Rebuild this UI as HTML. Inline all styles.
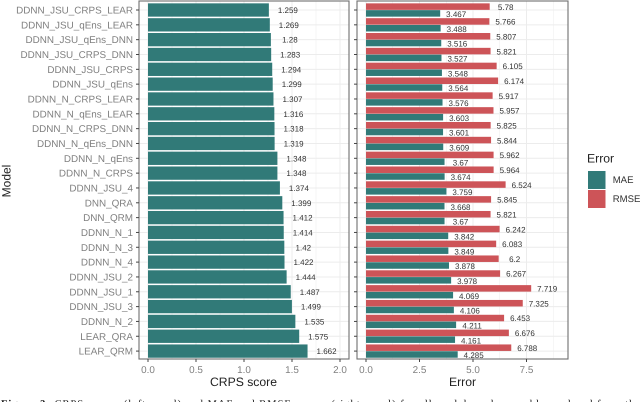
<!DOCTYPE html>
<html lang="en">
<head>
<meta charset="utf-8">
<title>CRPS and error scores by model</title>
<style>
html,body{margin:0;padding:0;background:#fff;width:640px;height:402px;overflow:hidden}
svg{display:block;font-family:"Liberation Sans",sans-serif;text-rendering:geometricPrecision;filter:blur(0.3px)}
text{font-family:"Liberation Sans",sans-serif}
.cap{font-family:"Liberation Serif",serif}
</style>
</head>
<body>
<svg id="chart" xmlns="http://www.w3.org/2000/svg" width="640" height="402" viewBox="0 0 640 402">
  <g id="left-grid"></g>
  <g id="right-grid"></g>
  <g id="left-bars"></g>
  <g id="right-bars"></g>
  <g id="left-values"></g>
  <g id="right-values"></g>
  <rect x="139" y="1" width="210" height="358" fill="none" stroke="#6f6f6f" stroke-width="1.1"/>
  <rect x="357" y="1" width="211" height="358" fill="none" stroke="#6f6f6f" stroke-width="1.1"/>
  <g id="y-axis"></g>
  <g id="x-axis-left"></g>
  <g id="x-axis-right"></g>
  <text transform="translate(10.5,181) rotate(-90)" text-anchor="middle" font-size="12" fill="#222">Model</text>
  <text x="243.5" y="386" text-anchor="middle" font-size="12.2" fill="#222">CRPS score</text>
  <text x="462.5" y="386" text-anchor="middle" font-size="12.2" fill="#222">Error</text>
  <g>
    <text x="587" y="162.5" font-size="12.2" fill="#222">Error</text>
    <rect x="588" y="171" width="17.5" height="18" fill="#317a78"/>
    <rect x="588" y="190" width="17.5" height="18" fill="#cd5458"/>
    <text x="612.7" y="183" font-size="9.6" fill="#333">MAE</text>
    <text x="612.7" y="202" font-size="9.6" fill="#333">RMSE</text>
  </g>
  <text class="cap" x="1" y="407" font-size="10.4" fill="#111" textLength="639" lengthAdjust="spacing"><tspan font-weight="bold">Figure 3:</tspan> CRPS scores (left panel) and MAE and RMSE scores (right panel) for all models and ensembles ordered from the</text>
</svg>
<script>
const categories = ["DDNN_JSU_CRPS_LEAR","DDNN_JSU_qEns_LEAR","DDNN_JSU_qEns_DNN","DDNN_JSU_CRPS_DNN","DDNN_JSU_CRPS","DDNN_JSU_qEns","DDNN_N_CRPS_LEAR","DDNN_N_qEns_LEAR","DDNN_N_CRPS_DNN","DDNN_N_qEns_DNN","DDNN_N_qEns","DDNN_N_CRPS","DDNN_JSU_4","DNN_QRA","DNN_QRM","DDNN_N_1","DDNN_N_3","DDNN_N_4","DDNN_JSU_2","DDNN_JSU_1","DDNN_JSU_3","DDNN_N_2","LEAR_QRA","LEAR_QRM"];
const crps = [1.259,1.269,1.28,1.283,1.294,1.299,1.307,1.316,1.318,1.319,1.348,1.348,1.374,1.399,1.412,1.414,1.42,1.422,1.444,1.487,1.499,1.535,1.575,1.662];
const mae = [3.467,3.488,3.516,3.527,3.548,3.564,3.576,3.603,3.601,3.609,3.67,3.674,3.759,3.668,3.67,3.842,3.849,3.878,3.978,4.069,4.106,4.211,4.161,4.285];
const rmse = [5.78,5.766,5.807,5.821,6.105,6.174,5.917,5.957,5.825,5.844,5.962,5.964,6.524,5.845,5.821,6.242,6.083,6.2,6.267,7.719,7.325,6.453,6.676,6.788];
const crpsTicks = [0,0.5,1,1.5,2];
const crpsTickLabels = ["0.0","0.5","1.0","1.5","2.0"];
const errorTicks = [0,2.5,5,7.5];
const errorTickLabels = ["0.0","2.5","5.0","7.5"];

const NS = "http://www.w3.org/2000/svg";
const xLeft = v => 148 + v * 96;
const xRight = v => 366 + v * 21.4;
const yRow = i => 10 + i * 14.83;
const fmt = v => String(v);

function make(parentId, tag, props, text) {
  const el = document.createElementNS(NS, tag);
  for (const k in props) el.setAttribute(k, props[k]);
  if (text !== undefined) el.textContent = text;
  document.getElementById(parentId).appendChild(el);
  return el;
}

function gridV(parentId, x, top, bottom, width, name) {
  const el = make(parentId, "line", {x1:x, x2:x, y1:top, y2:bottom, stroke:"#ececec", "stroke-width":width});
  
  
}

function gridH(parentId, y, x1, x2) {
  const el = make(parentId, "line", {x1:x1, x2:x2, y1:y, y2:y, stroke:"#ececec", "stroke-width":1});
  
  
}

crpsTicks.forEach((t, i) => {
  gridV("left-grid", xLeft(t), 1, 359, 1, "grid-line-major");
  if (i < crpsTicks.length - 1) gridV("left-grid", xLeft((t + crpsTicks[i + 1]) / 2), 1, 359, 0.5, "grid-line-minor");
  const tick = make("x-axis-left", "line", {x1:xLeft(t), x2:xLeft(t), y1:359, y2:362, stroke:"#444", "stroke-width":1});
  
  
  const lab = make("x-axis-left", "text", {x:xLeft(t), y:373, "text-anchor":"middle", "font-size":9.9, fill:"#7f7f7f"}, crpsTickLabels[i]);
  
  
});

errorTicks.forEach((t, i) => {
  gridV("right-grid", xRight(t), 1, 359, 1, "grid-line-major");
  gridV("right-grid", xRight(t + 1.25), 1, 359, 0.5, "grid-line-minor");
  const tick = make("x-axis-right", "line", {x1:xRight(t), x2:xRight(t), y1:359, y2:362, stroke:"#444", "stroke-width":1});
  
  
  const lab = make("x-axis-right", "text", {x:xRight(t), y:373, "text-anchor":"middle", "font-size":9.9, fill:"#7f7f7f"}, errorTickLabels[i]);
  
  
});

categories.forEach((name, i) => {
  const y = yRow(i);
  gridH("left-grid", y, 139, 349);
  gridH("right-grid", y, 357, 568);

  const lab = make("y-axis", "text", {x:133, y:y + 3.5, "text-anchor":"end", "font-size":9.9, fill:"#7f7f7f"}, name);
  
  
  const tickL = make("y-axis", "line", {x1:136, x2:139, y1:y, y2:y, stroke:"#444", "stroke-width":1});
  
  
  const tickR = make("y-axis", "line", {x1:354, x2:357, y1:y, y2:y, stroke:"#444", "stroke-width":1});
  
  

  const barC = make("left-bars", "rect", {x:xLeft(0), y:y - 6.65, width:xLeft(crps[i]) - xLeft(0), height:13.3, fill:"#317a78"});
  
  
  const valC = make("left-values", "text", {x:xLeft(crps[i]) + 19, y:y + 3, "text-anchor":"middle", "font-size":8, fill:"#333"}, fmt(crps[i]));
  
  

  const barR = make("right-bars", "rect", {x:xRight(0), y:y - 6.65, width:xRight(rmse[i]) - xRight(0), height:6.5, fill:"#cd5458"});
  
  
  const barM = make("right-bars", "rect", {x:xRight(0), y:y + 0.15, width:xRight(mae[i]) - xRight(0), height:6.5, fill:"#317a78"});
  
  

  const valR = make("right-values", "text", {x:xRight(rmse[i]) + 16, y:y - 0.2, "text-anchor":"middle", "font-size":8, fill:"#333"}, fmt(rmse[i]));
  
  
  const valM = make("right-values", "text", {x:xRight(mae[i]) + 16, y:y + 7, "text-anchor":"middle", "font-size":8, fill:"#333"}, fmt(mae[i]));
  
  
});
</script>
</body>
</html>
